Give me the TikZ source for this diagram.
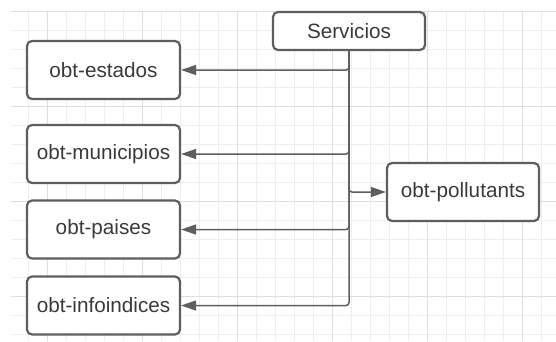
\documentclass[tikz,border=0pt]{standalone}
\usepackage{fontspec}
\setmainfont{Liberation Sans}
\usetikzlibrary{arrows.meta}
\definecolor{gridminor}{HTML}{EEEEEE}
\definecolor{gridmajor}{HTML}{DEDEDE}
\definecolor{edgegray}{HTML}{5E5E5E}
\definecolor{textgray}{HTML}{3A3A3A}
\begin{document}
\begin{tikzpicture}[x=1pt,y=-1pt,
  box/.style={draw=edgegray, line width=2.2pt, rounded corners=5pt, fill=white,
    minimum width=153pt, minimum height=58pt, inner sep=0pt, text=textgray,
    font=\fontsize{20.7}{24}\selectfont},
  link/.style={draw=edgegray, line width=1.5pt, rounded corners=3pt,
    -{Triangle[length=15pt,width=10pt]}}]
  % canvas
  \fill[white] (0,0) rectangle (556,341);
  \useasboundingbox (0,0) rectangle (556,341);
  % background grid
  \begin{scope}
    \clip (11,11) rectangle (556,341);
    \foreach \x in {9,28,...,560} \draw[gridminor, line width=1pt] (\x,0) -- (\x,341);
    \foreach \y in {11,30,...,345} \draw[gridminor, line width=1pt] (0,\y) -- (556,\y);
    \foreach \x in {47,142,237,332,427,522} \draw[gridmajor, line width=1pt] (\x,0) -- (\x,341);
    \foreach \y in {11,106,201,296} \draw[gridmajor, line width=1pt] (0,\y) -- (556,\y);
  \end{scope}
  % nodes
  \node[box, minimum width=152pt, minimum height=38pt] (serv) at (349,31) {Servicios};
  \node[box] (est) at (103.5,70) {obt-estados};
  \node[box] (mun) at (103.5,154) {obt-municipios};
  \node[box] (pai) at (103.5,229.5) {obt-paises};
  \node[box] (inf) at (103.5,305.5) {obt-infoindices};
  \node[box, minimum width=152pt] (pol) at (463,192) {obt-pollutants};
  % connectors
  \draw[link] (serv.south) -- (serv.south |- est.east) -- (est.east);
  \draw[link] (serv.south) -- (serv.south |- mun.east) -- (mun.east);
  \draw[link] (serv.south) -- (serv.south |- pai.east) -- (pai.east);
  \draw[link] (serv.south) -- (serv.south |- inf.east) -- (inf.east);
  \draw[link] (serv.south) -- (serv.south |- pol.west) -- (pol.west);
\end{tikzpicture}
\end{document}
